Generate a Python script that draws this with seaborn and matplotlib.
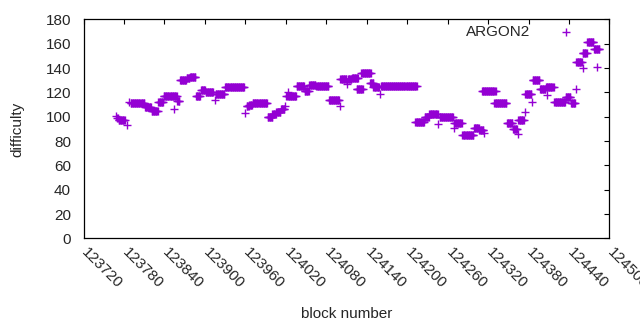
import matplotlib.pyplot as plt
import matplotlib.transforms as mtransforms
import numpy as np
import pandas as pd
import seaborn as sns

sns.set_style("white")
plt.rcParams["font.family"] = ["Liberation Sans", "DejaVu Sans"]
plt.rcParams["font.size"] = 11

run_start = [123768, 123770, 123772, 123785, 123788, 123790, 123811, 123821, 123831, 123839,
             123854, 123859, 123863, 123873, 123878, 123887, 123894, 123901, 123915, 123916,
             123930, 123960, 123962, 123966, 123971, 123993, 124000, 124006, 124013, 124019,
             124023, 124021, 124036, 124048, 124055, 124065, 124084, 124100, 124101, 124111,
             124112, 124118, 124125, 124132, 124145, 124150, 124160, 124161, 124212, 124226,
             124233, 124245, 124248, 124269, 124270, 124282, 124299, 124307, 124314, 124311,
             124329, 124348, 124357, 124365, 124365, 124374, 124375, 124385, 124386, 124397,
             124406, 124408, 124418, 124435, 124443, 124450, 124451, 124460, 124460, 124467,
             124477, 124482]
run_end = [123768, 123771, 123781, 123785, 123788, 123810, 123820, 123830, 123838, 123858,
           123854, 123862, 123872, 123877, 123886, 123893, 123900, 123912, 123915, 123929,
           123958, 123960, 123965, 123970, 123992, 124000, 124005, 124012, 124018, 124019,
           124023, 124035, 124047, 124054, 124064, 124083, 124099, 124100, 124110, 124111,
           124117, 124127, 124134, 124146, 124150, 124158, 124160, 124214, 124225, 124232,
           124245, 124245, 124268, 124269, 124281, 124298, 124306, 124313, 124314, 124331,
           124347, 124356, 124363, 124365, 124373, 124374, 124384, 124385, 124396, 124405,
           124417, 124408, 124434, 124442, 124449, 124450, 124459, 124460, 124466, 124476,
           124485, 124482]
run_value = [101, 99, 97, 93, 112, 111, 108, 105, 112, 117,
             106, 113, 130, 132, 133, 117, 122, 120, 114, 119,
             124, 103, 109, 110, 111, 100, 102, 104, 106, 109,
             120, 117, 125, 121, 126, 125, 114, 109, 131, 127,
             131, 132, 123, 136, 128, 124, 119, 125, 96, 100,
             102, 94, 100, 91, 95, 85, 91, 89, 87, 121,
             111, 95, 90, 86, 97, 104, 119, 112, 130, 123,
             124, 118, 112, 116, 111, 123, 145, 140, 152, 161,
             156, 141]

blocks = np.concatenate([np.arange(s, e + 1) for s, e in zip(run_start, run_end)])
values = np.concatenate([[v] * (e - s + 1) for s, e, v in zip(run_start, run_end, run_value)])
df = pd.DataFrame({"block number": blocks, "difficulty": values})

fig, ax = plt.subplots(figsize=(6.4, 3.3), dpi=100)
fig.subplots_adjust(left=0.1305, right=0.9523, bottom=0.2773, top=0.9415)

sns.scatterplot(data=df, x="block number", y="difficulty", marker="+", s=30,
                color="#9400d3", linewidth=1, label="ARGON2", ax=ax)

ax.set_xlim(123720, 124500)
ax.set_ylim(0, 180)
ax.set_xticks(range(123720, 124501, 60))
ax.set_yticks(range(0, 181, 20))
ax.tick_params(direction="in", length=3.5, width=0.8, top=True, right=True, color="black")
ax.tick_params(axis="y", pad=9)
ax.tick_params(axis="x", pad=5)
shift = mtransforms.ScaledTranslation(4 / 72, 0, fig.dpi_scale_trans)
for lab in ax.get_xticklabels():
    lab.set_rotation(-45)
    lab.set_ha("left")
    lab.set_va("top")
    lab.set_rotation_mode("anchor")
    lab.set_transform(lab.get_transform() + shift)
for sp in ax.spines.values():
    sp.set_color("black")
    sp.set_linewidth(0.9)

ax.set_xlabel("block number", labelpad=11)
ax.set_ylabel("difficulty", labelpad=15)

ax.legend(loc="upper right", bbox_to_anchor=(0.946, 0.975), markerfirst=False, frameon=False,
          borderpad=0, borderaxespad=0, handletextpad=1.3, handlelength=2)

plt.savefig("out.png", dpi=100)
